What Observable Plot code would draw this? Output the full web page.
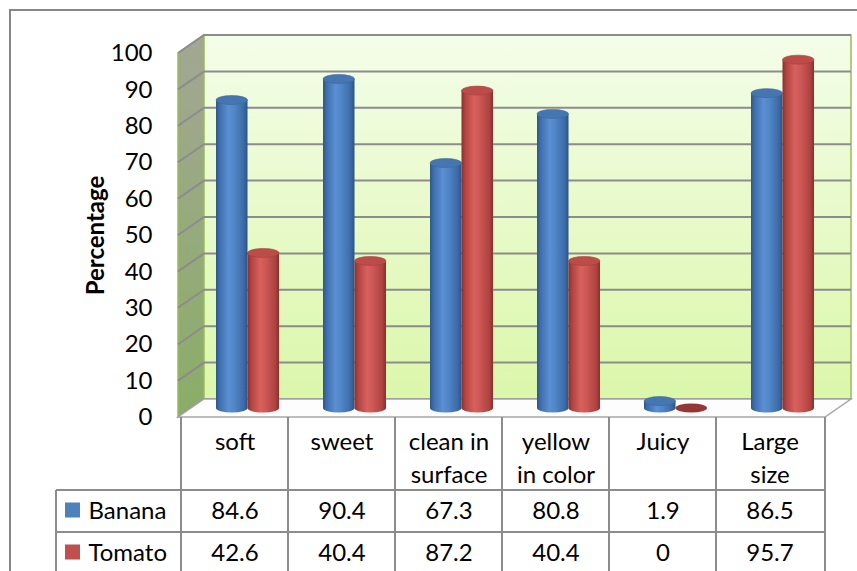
<!DOCTYPE html>
<html>
<head>
<meta charset="utf-8">
<script src="https://cdn.jsdelivr.net/npm/d3@7"></script>
<script src="https://cdn.jsdelivr.net/npm/@observablehq/plot@0.6"></script>
<style>
  html, body { margin: 0; padding: 0; background: #fff; }
  #chart svg { display: block; }
</style>
</head>
<body>
<div id="chart"></div>
<script>
// Survey attributes (columns of the data table)
const categories = ["soft", "sweet", "clean in\nsurface", "yellow\nin color", "Juicy", "Large\nsize"];
const series = ["Banana", "Tomato"];
const banana = [84.6, 90.4, 67.3, 80.8, 1.9, 86.5];
const tomato = [42.6, 40.4, 87.2, 40.4, 0, 95.7];
const yTicks = [0, 10, 20, 30, 40, 50, 60, 70, 80, 90, 100];
const yLabel = "Percentage";

const seriesValues = [banana, tomato];
const rows = categories.flatMap((c, i) =>
  series.map((s, j) => ({category: c, series: s, value: seriesValues[j][i]}))
);

// 3-D look: depth offset of the back wall relative to the front plane
const DEPTH_X = 26, DEPTH_Y = -18;
const BAR_W = 31.5, CAP_RY = 4.5;
const FONT = "Lato, 'Open Sans', sans-serif";
const FS = 24;
const GRID = "#8c8c8c";

// Table row offsets below the front floor edge
const HEADER_H = 73, ROW_H = 42;

const palette = {
  Banana: {stops: ["#2d5788", "#3f6fad", "#5b8fd3", "#4f84c6", "#3d6aa6", "#2b5485"], cap: "#4676b2", key: "#4f81bd", flat: "#2f5c93"},
  Tomato: {stops: ["#8a302e", "#b14441", "#d8615e", "#cb5653", "#ad4340", "#87302d"], cap: "#bd4b48", key: "#c0504d", flat: "#953735"}
};
const stopOffsets = [0, 0.12, 0.4, 0.6, 0.88, 1];

function walls(index, {x, y}, values, dims) {
  const g = d3.create("svg:g");
  const defs = g.append("defs");
  const gb = defs.append("linearGradient").attr("id", "backwall").attr("x1", 0).attr("y1", 0).attr("x2", 0).attr("y2", 1);
  gb.append("stop").attr("offset", 0).attr("stop-color", "#f4fde9");
  gb.append("stop").attr("offset", 1).attr("stop-color", "#dbf7aa");
  const gs = defs.append("linearGradient").attr("id", "sidewall").attr("x1", 0).attr("y1", 0).attr("x2", 0).attr("y2", 1);
  gs.append("stop").attr("offset", 0).attr("stop-color", "#a2a793");
  gs.append("stop").attr("offset", 1).attr("stop-color", "#8bad67");

  const [x0, x1] = x.range();
  const yTop = y(100), yBot = y(0);

  // outer chart border
  g.append("path").attr("d", `M10,${dims.height + 5}V10H${dims.width + 5}`)
    .attr("fill", "none").attr("stroke", "#868686").attr("stroke-width", 2);

  // side wall
  g.append("path")
    .attr("d", `M${x0},${yTop}L${x0 + DEPTH_X},${yTop + DEPTH_Y}L${x0 + DEPTH_X},${yBot + DEPTH_Y}L${x0},${yBot}Z`)
    .attr("fill", "url(#sidewall)").attr("stroke", "#9bbb59").attr("stroke-width", 1.5);
  // back wall
  g.append("rect")
    .attr("x", x0 + DEPTH_X).attr("y", yTop + DEPTH_Y)
    .attr("width", x1 - x0).attr("height", yBot - yTop)
    .attr("fill", "url(#backwall)").attr("stroke", "#9bbb59").attr("stroke-width", 1.5);
  // gridlines across side and back walls
  for (const t of yTicks) {
    const yt = y(t);
    g.append("path")
      .attr("d", `M${x0},${yt}L${x0 + DEPTH_X},${yt + DEPTH_Y}H${x1 + DEPTH_X}`)
      .attr("fill", "none").attr("stroke", GRID).attr("stroke-width", 2);
  }
  // floor
  g.append("path")
    .attr("d", `M${x0},${yBot}H${x1}L${x1 + DEPTH_X},${yBot + DEPTH_Y}H${x0 + DEPTH_X}Z`)
    .attr("fill", "#fdfdfd").attr("stroke", "#a6a6a6").attr("stroke-width", 1.5);
  return g.node();
}

function cylinders(index, {x, y}) {
  const g = d3.create("svg:g");
  const defs = g.append("defs");
  for (const s of series) {
    const lg = defs.append("linearGradient").attr("id", `cyl-${s}`).attr("x1", 0).attr("y1", 0).attr("x2", 1).attr("y2", 0);
    palette[s].stops.forEach((c, i) => lg.append("stop").attr("offset", stopOffsets[i]).attr("stop-color", c));
  }
  const bw = x.bandwidth();
  const rx = BAR_W / 2;
  for (const r of rows) {
    const si = series.indexOf(r.series);
    const mid = x(r.category) + bw / 2 + DEPTH_X / 2;
    const left = si === 0 ? mid - BAR_W : mid;
    const right = left + BAR_W;
    const yb = y(0) + DEPTH_Y / 2;
    const yt = y(r.value) + DEPTH_Y / 2;
    const p = palette[r.series];
    if (r.value === 0) {
      g.append("ellipse").attr("cx", left + rx).attr("cy", yb).attr("rx", rx).attr("ry", CAP_RY)
        .attr("fill", p.flat);
      continue;
    }
    g.append("path")
      .attr("d", `M${left},${yt}V${yb}A${rx},${CAP_RY} 0 0 0 ${right},${yb}V${yt}Z`)
      .attr("fill", `url(#cyl-${r.series})`);
    g.append("ellipse").attr("cx", left + rx).attr("cy", yt).attr("rx", rx).attr("ry", CAP_RY)
      .attr("fill", p.cap).attr("stroke", d3.color(p.cap).darker(0.4)).attr("stroke-width", 0.6);
  }
  return g.node();
}

function table(index, {x, y}, values, dims) {
  const g = d3.create("svg:g").attr("stroke", GRID).attr("stroke-width", 2).attr("fill", "none");
  const [x0, x1] = x.range();
  const top = y(0);
  const r1 = top + HEADER_H, r2 = r1 + ROW_H, r3 = r2 + ROW_H;
  const tableLeft = 56;
  for (const c of categories) g.append("line").attr("x1", x(c)).attr("x2", x(c)).attr("y1", top).attr("y2", r3 + 5);
  g.append("line").attr("x1", x1).attr("x2", x1).attr("y1", top).attr("y2", r3 + 5);
  g.append("line").attr("x1", tableLeft).attr("x2", tableLeft).attr("y1", r1).attr("y2", r3 + 5);
  for (const yy of [r1, r2, r3]) g.append("line").attr("x1", tableLeft).attr("x2", x1).attr("y1", yy).attr("y2", yy);
  // legend keys
  series.forEach((s, i) => {
    const cy = r1 + ROW_H * i + 20;
    g.append("rect").attr("x", 65).attr("y", cy - 7.5).attr("width", 15).attr("height", 15)
      .attr("fill", palette[s].key).attr("stroke", "none");
  });
  return g.node();
}

const rowDy = j => HEADER_H + ROW_H * j + 20.5;

const valueRows = series.map((s, j) =>
  Plot.text(categories, {
    x: d => d,
    text: (d, i) => String(seriesValues[j][i]),
    frameAnchor: "bottom",
    lineAnchor: "middle",
    textAnchor: "middle",
    dy: rowDy(j),
    fontSize: FS, fontFamily: FONT, fill: "#000"
  })
);
const seriesNames = series.map((s, j) =>
  Plot.text([s], {
    text: d => d,
    frameAnchor: "bottom-left",
    lineAnchor: "middle",
    textAnchor: "start",
    dx: 88 - 178,
    dy: rowDy(j),
    fontSize: FS, fontFamily: FONT, fill: "#000"
  })
);

const chart = Plot.plot({
  width: 857,
  height: 571,
  marginLeft: 178,
  marginRight: 32,
  marginTop: 53,
  marginBottom: 154,
  style: {fontFamily: FONT, background: "transparent", overflow: "visible"},
  x: {type: "band", domain: categories, padding: 0, axis: null},
  y: {domain: [0, 100], axis: null},
  marks: [
    walls,
    cylinders,
    table,
    Plot.text(yTicks, {
      y: d => d, text: d => String(d),
      frameAnchor: "left", dx: -26, textAnchor: "end", lineAnchor: "middle",
      fontSize: FS, fontFamily: FONT, fill: "#000"
    }),
    Plot.text([yLabel], {
      text: d => d, frameAnchor: "left", rotate: -90, dx: -82,
      textAnchor: "middle", lineAnchor: "middle",
      fontSize: FS, fontWeight: "bold", fontFamily: FONT, fill: "#000"
    }),
    Plot.text(categories, {
      x: d => d, text: d => d,
      frameAnchor: "bottom", lineAnchor: "top", textAnchor: "middle", lineHeight: 1.375, dy: 9.5,
      fontSize: FS, fontFamily: FONT, fill: "#000"
    }),
    ...valueRows,
    ...seriesNames
  ]
});

document.getElementById("chart").appendChild(chart);
</script>
</body>
</html>
